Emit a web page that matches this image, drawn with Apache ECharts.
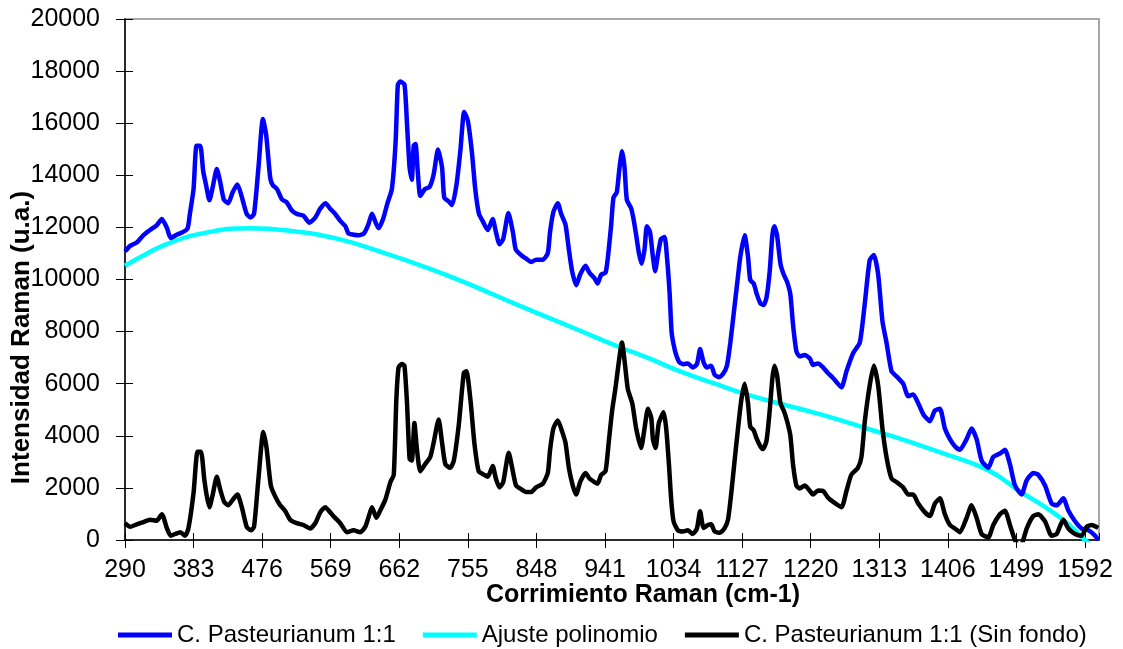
<!DOCTYPE html>
<html>
<head>
<meta charset="utf-8">
<title>Espectro Raman - C. Pasteurianum 1:1</title>
<script src="https://cdn.jsdelivr.net/npm/echarts@6/dist/echarts.min.js"></script>
<style>
  html, body { margin: 0; padding: 0; background: #fff; }
  #chart { width: 1123px; height: 649px; }
</style>
</head>
<body>
<div id="chart"></div>
<script>
// Tick labels of the Raman shift axis (every 93 cm-1)
const shiftTicks = [290, 383, 476, 569, 662, 755, 848, 941, 1034, 1127, 1220, 1313, 1406, 1499, 1592]

// C. Pasteurianum 1:1 (raw spectrum)
const rawShift = [290, 297, 306, 315, 324, 333, 340, 347, 352, 360, 369, 375, 378, 383, 387, 392, 396, 400, 404.5, 409,
  414.5, 419, 424, 430, 436, 442.5, 448, 455, 460, 465, 471, 477, 481.5, 487, 490.5, 496, 503, 509.5, 516, 523,
  532, 540, 548, 555, 562, 568, 575, 582, 589, 593, 600, 607, 614, 620, 625, 630, 634, 640, 646, 652,
  657, 660, 663, 669, 672.5, 676, 679, 681.5, 684, 687, 690.5, 697, 703, 708.6, 714.5, 720, 723, 729, 733.5, 739.5,
  745, 750, 755, 760.6, 765, 770, 775, 782, 788.7, 793, 798, 803, 810, 816, 820, 827, 834, 841, 847.5, 856.6,
  863.4, 866.5, 871, 877, 881.5, 887.4, 892, 896.4, 902, 907.3, 914.5, 920, 926.7, 931, 935.8, 941.7, 945, 949.4, 952.5, 957,
  960.7, 964.3, 967.5, 970.6, 976.5, 979.7, 983.3, 987, 990.6, 994.6, 997.8, 1002, 1006, 1009, 1012.7, 1017, 1021.8, 1025, 1028.6, 1031.3,
  1034, 1037.6, 1042, 1047.6, 1053.5, 1060, 1065.7, 1070, 1074.7, 1079, 1085, 1089.7, 1095.6, 1101, 1106.4, 1111, 1115.5, 1120, 1124.5, 1130.4,
  1135, 1138, 1142.6, 1147, 1151.7, 1156, 1160, 1164.4, 1168, 1170.7, 1174.3, 1179, 1183.4, 1188, 1192.4, 1196, 1200.6, 1205, 1212, 1219,
  1223, 1230, 1237, 1243.6, 1250, 1261.7, 1268.5, 1277.5, 1286.6, 1293.4, 1300, 1305.6, 1311.5, 1317.3, 1322.8, 1329.6, 1336.4, 1345.4, 1352.2, 1359,
  1365.8, 1372.6, 1381.6, 1388.4, 1395.2, 1402, 1408.8, 1415.5, 1422.3, 1431.4, 1438.2, 1445, 1451.8, 1460.8, 1467.6, 1476.6, 1483.4, 1490.2, 1497, 1506,
  1512.9, 1521.9, 1528.7, 1537.8, 1546.8, 1553.6, 1562.6, 1569.4, 1578.5, 1587.5, 1596.6, 1605.6, 1610]
const rawIntensity = [11080, 11290, 11420, 11700, 11900, 12080, 12320, 11970, 11590, 11720, 11830, 11970, 12520, 13480, 15130, 15130, 14170, 13620, 13040, 13550,
  14240, 13760, 13070, 12930, 13350, 13650, 13210, 12520, 12380, 12520, 14300, 16160, 15540, 13890, 13620, 13480, 13070, 12960, 12660, 12520,
  12450, 12180, 12380, 12730, 12930, 12730, 12520, 12250, 12040, 11770, 11720, 11700, 11770, 12110, 12520, 12180, 11970, 12320, 12930, 13480,
  15270, 17460, 17600, 17490, 15950, 14300, 13830, 15130, 15200, 14170, 13210, 13480, 13550, 14030, 14990, 14300, 13140, 13000, 12860, 13620,
  14990, 16430, 16090, 14860, 13480, 12520, 12250, 11900, 12320, 11830, 11350, 11560, 12550, 11830, 11150, 10940, 10800, 10670, 10760, 10760,
  11010, 11830, 12590, 12930, 12520, 12110, 11150, 10320, 9780, 10190, 10530, 10260, 10050, 9850, 10190, 10260, 10870, 12110, 13140, 13350,
  14300, 14920, 14300, 13070, 12730, 12320, 11700, 11010, 10600, 11150, 12040, 11830, 10870, 10320, 10940, 11560, 11630, 10870, 9500, 7990,
  7510, 7100, 6820, 6750, 6780, 6620, 6750, 7330, 6820, 6620, 6690, 6340, 6250, 6370, 6690, 7580, 8680, 9780, 10870, 11700,
  10870, 9980, 9850, 9430, 9090, 9020, 9300, 10320, 11700, 12040, 11700, 10600, 10190, 9910, 9430, 8270, 7240, 7050, 7100, 6960,
  6720, 6780, 6620, 6400, 6230, 5860, 6480, 7170, 7580, 9090, 10740, 10940, 10190, 8400, 7580, 6480, 6280, 6000, 5520, 5590,
  5250, 4830, 4560, 4970, 5040, 4280, 3870, 3600, 3460, 3870, 4280, 3870, 3050, 2770, 3190, 3320, 3460, 2910, 2090, 1750,
  2290, 2570, 2500, 2090, 1400, 1330, 1600, 1130, 720, 440, 370, 170, 0]

// Ajuste polinomio (polynomial baseline)
const fitShift = [290, 320, 350, 400, 460, 520, 580, 635, 700, 750, 798, 850, 900, 961, 1000, 1042, 1090, 1133, 1180, 1223,
  1260, 1296, 1340, 1386, 1420, 1454, 1480, 1499, 1522, 1545, 1570, 1592, 1611]
const fitIntensity = [10530, 11000, 11400, 11800, 11970, 11850, 11550, 11080, 10450, 9900, 9320, 8700, 8120, 7400, 6980, 6480, 6000, 5590, 5220, 4900,
  4600, 4280, 3900, 3460, 3130, 2770, 2350, 1950, 1550, 1125, 600, 0, -450]

// C. Pasteurianum 1:1 (Sin fondo)
const corrShift = [290, 297, 306, 315, 324, 333, 340, 347, 352, 358, 365, 371.5, 376, 383, 388.4, 393, 397.4, 401, 404.5, 409,
  414.5, 419, 424.4, 430, 436, 442.5, 448.4, 455, 460.6, 465, 471, 477.6, 482, 487.8, 493.7, 500.5, 507, 514, 523, 532,
  541, 548, 554.8, 561.6, 568.3, 575, 582, 591, 600, 609, 616, 620, 625, 631, 636, 643, 650, 654.5, 658, 661,
  665.6, 669, 672.5, 676, 679, 682.5, 686, 690.5, 697, 704, 708.6, 715.4, 720, 724.5, 731, 736, 742.7, 749.5, 753, 758.5,
  763.8, 769.7, 777.4, 782, 788.7, 793, 797.8, 803, 810.4, 816, 820.4, 827.2, 834, 840.8, 847.5, 856.6, 863.4, 866.5, 871, 877,
  883, 887.4, 892, 897.3, 901.9, 907.3, 914.5, 920, 926.7, 931, 935.8, 941.7, 946, 950.7, 955, 960, 964, 967.5, 972, 978,
  983.3, 990, 994.6, 999.2, 1003.7, 1006, 1009.6, 1014, 1020.5, 1024, 1027.7, 1030.8, 1034, 1039.9, 1046.7, 1053.5, 1060, 1065.7, 1070, 1074.7,
  1080.6, 1085, 1089.7, 1096.5, 1103, 1107.8, 1112.3, 1116.8, 1121.4, 1125.9, 1130.4, 1135, 1138, 1142.6, 1147, 1151.7, 1155.3, 1160, 1164.4, 1168,
  1170.7, 1174.3, 1179, 1183.4, 1188, 1192.4, 1196, 1200.6, 1205, 1212, 1219, 1223, 1230, 1237, 1243.6, 1250, 1261.7, 1268.5, 1275, 1284,
  1288.8, 1293.4, 1300, 1305.6, 1311.5, 1317.3, 1322.8, 1329.6, 1336.4, 1345.4, 1352.2, 1359, 1365.8, 1375, 1381.6, 1388.4, 1395.2, 1402, 1408.8, 1415.5,
  1422.3, 1431.4, 1438.2, 1445, 1451.8, 1460.8, 1467.6, 1476.6, 1483.4, 1490.2, 1497, 1504, 1512.9, 1521.9, 1528.7, 1537.8, 1546.8, 1553.6, 1562.6, 1569.4,
  1578.5, 1587.5, 1594.3, 1601, 1610]
const corrIntensity = [645, 510, 600, 690, 780, 740, 990, 440, 165, 230, 300, 165, 440, 1810, 3390, 3390, 2360, 1675, 1260, 1745,
  2430, 1950, 1470, 1330, 1540, 1745, 1260, 510, 370, 510, 2360, 4150, 3530, 2090, 1675, 1330, 1125, 780, 645, 575,
  440, 645, 1060, 1260, 1060, 850, 645, 300, 370, 300, 510, 850, 1260, 850, 1125, 1540, 2225, 2500, 5380, 6620,
  6755, 6690, 5245, 3120, 3050, 4490, 3460, 2640, 2910, 3185, 3735, 4630, 3735, 2910, 2770, 3050, 4420, 6410, 6480, 5380,
  3735, 2640, 2500, 2430, 2840, 2360, 2020, 2225, 3350, 2640, 2090, 1950, 1840, 1840, 2020, 2160, 2570, 3460, 4280, 4590,
  4150, 3735, 2770, 2090, 1745, 2225, 2570, 2360, 2225, 2160, 2500, 2640, 3735, 4970, 5790, 6890, 7580, 6890, 5790, 5245,
  4280, 3530, 4280, 5040, 4700, 3870, 3530, 4490, 4900, 4280, 2910, 1540, 715, 370, 330, 370, 230, 440, 1100, 465,
  575, 600, 330, 275, 440, 780, 1810, 3050, 4280, 5380, 6000, 5245, 4350, 4215, 3870, 3600, 3490, 3800, 4970, 6205,
  6690, 6340, 5245, 4970, 4560, 4010, 2910, 2090, 1980, 2090, 1880, 1745, 1900, 1880, 1620, 1470, 1260, 1880, 2500, 2770,
  3185, 4560, 5930, 6690, 5930, 4280, 3185, 2360, 2225, 2020, 1745, 1745, 1400, 1060, 920, 1400, 1600, 990, 575, 440,
  300, 850, 1330, 850, 230, 100, 575, 990, 1125, 575, 0, -300, 440, 920, 990, 715, 165, 230, 780, 440,
  230, 165, 510, 575, 465]

const FONT = "'Liberation Sans', Arial, sans-serif"
const pairs = (xs, ys) => xs.map((x, i) => [x, ys[i]])

const chart = echarts.init(document.getElementById('chart'))

const xCommon = {
  type: 'value',
  min: shiftTicks[0],
  max: 1611,
  interval: shiftTicks[1] - shiftTicks[0],
  splitLine: { show: false },
}
const yCommon = {
  type: 'value',
  min: 0,
  max: 20000,
  interval: 2000,
  splitLine: { show: false },
}

chart.setOption({
  animation: false,
  backgroundColor: '#fff',
  textStyle: { fontFamily: FONT },
  grid: {
    left: 125, right: 24, top: 19, bottom: 109,
    containLabel: false,
    outerBoundsMode: 'none',
    show: true, borderColor: '#8c8c8c', borderWidth: 1.5, backgroundColor: 'transparent',
  },
  legend: {
    left: 113,
    top: 618,
    icon: 'rect',
    itemWidth: 54,
    itemHeight: 5,
    itemGap: 27,
    textStyle: { fontFamily: FONT, fontSize: 24, color: '#000' },
    data: ['C. Pasteurianum 1:1', 'Ajuste polinomio', 'C. Pasteurianum 1:1 (Sin fondo)'],
  },
  xAxis: [
    {
      ...xCommon,
      name: 'Corrimiento Raman (cm-1)',
      nameLocation: 'middle',
      nameGap: 43,
      nameMoveOverlap: false,
      nameTextStyle: { fontFamily: FONT, fontSize: 25, fontWeight: 'bold', color: '#000', padding: [0, 0, 0, 62] },
      axisLine: { show: true, onZero: false, lineStyle: { color: '#000', width: 1.5 } },
      axisTick: { show: true, inside: false, length: 8, lineStyle: { color: '#000', width: 1 } },
      axisLabel: {
        fontFamily: FONT, fontSize: 25, color: '#000', margin: 18,
        showMaxLabel: false,
        formatter: (v) => (shiftTicks.includes(Math.round(v)) ? String(Math.round(v)) : ''),
      },
    },
    {
      ...xCommon,
      position: 'bottom',
      axisLine: { show: false },
      axisTick: { show: true, inside: true, length: 7, lineStyle: { color: '#000', width: 1 } },
      axisLabel: { show: false },
    },
  ],
  yAxis: [
    {
      ...yCommon,
      name: 'Intensidad Raman (u.a.)',
      nameLocation: 'middle',
      nameGap: 90,
      nameMoveOverlap: false,
      nameTextStyle: { fontFamily: FONT, fontSize: 26, fontWeight: 'bold', color: '#000', padding: [0, 116, 0, 0] },
      axisLine: { show: true, onZero: false, lineStyle: { color: '#000', width: 1.5 } },
      axisTick: { show: true, inside: false, length: 9, lineStyle: { color: '#000', width: 1 } },
      axisLabel: { fontFamily: FONT, fontSize: 25, color: '#000', margin: 25, formatter: (v) => String(v) },
    },
    {
      ...yCommon,
      position: 'left',
      axisLine: { show: false },
      axisTick: { show: true, inside: true, length: 8, lineStyle: { color: '#000', width: 1 } },
      axisLabel: { show: false },
    },
  ],
  series: [
    {
      name: 'C. Pasteurianum 1:1',
      type: 'line',
      symbol: 'none',
      smooth: 0.2,
      clip: true,
      data: pairs(rawShift, rawIntensity),
      lineStyle: { color: '#0000ff', width: 4.5 },
      itemStyle: { color: '#0000ff' },
      z: 3,
    },
    {
      name: 'Ajuste polinomio',
      type: 'line',
      symbol: 'none',
      smooth: true,
      clip: true,
      data: pairs(fitShift, fitIntensity),
      lineStyle: { color: '#00ffff', width: 4.5 },
      itemStyle: { color: '#00ffff' },
      z: 2,
    },
    {
      name: 'C. Pasteurianum 1:1 (Sin fondo)',
      type: 'line',
      symbol: 'none',
      smooth: 0.2,
      clip: true,
      data: pairs(corrShift, corrIntensity),
      lineStyle: { color: '#000000', width: 4.5 },
      itemStyle: { color: '#000000' },
      z: 4,
    },
  ],
})

window.addEventListener('resize', () => chart.resize())
</script>
</body>
</html>
